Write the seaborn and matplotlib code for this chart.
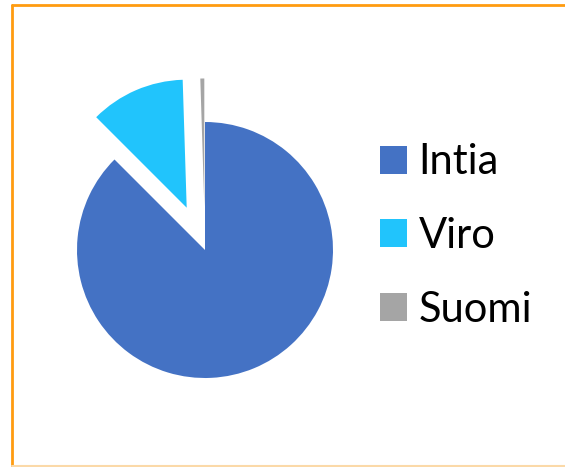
import matplotlib
matplotlib.use("Agg")
import matplotlib.pyplot as plt
import seaborn as sns
from matplotlib.patches import Patch
from matplotlib.lines import Line2D

categories = ["Intia", "Viro", "Suomi"]
values = [87.5, 12.0, 0.5]
colors = ["#4472C4", "#21C4FC", "#A5A5A5"]
explode = [0.0, 0.36, 0.34]

sns.set_theme(style="white")
plt.rcParams['font.family'] = ['Lato', 'DejaVu Sans']

fig = plt.figure(figsize=(5.65, 4.67), dpi=100)
fig.patch.set_facecolor("white")

ax = fig.add_axes([13/565, 25/467, 384/565, 384/467])
wedges, _ = ax.pie(values, colors=colors, explode=explode, startangle=90,
                   counterclock=False, wedgeprops=dict(linewidth=0))
ax.set_xlim(-1.5, 1.5)
ax.set_ylim(-1.5, 1.5)
ax.set_aspect("equal")
ax.axis("off")

handles = [Patch(facecolor=c, edgecolor="none") for c in colors]
leg = fig.legend(handles, categories, loc="center left",
                 bbox_to_anchor=(363/565, 1 - 236/467), frameon=False,
                 fontsize=30, handlelength=0.66, handleheight=0.66,
                 handletextpad=0.27, labelspacing=0.86, borderaxespad=0,
                 labelcolor="black")

orange = "#FF9C10"
fig.add_artist(Line2D([12/565, 12/565], [1 - 4.5/467, 1 - 466/467],
                      transform=fig.transFigure, color=orange, lw=2))
fig.add_artist(Line2D([12/565, 1.0], [1 - 5/467, 1 - 5/467],
                      transform=fig.transFigure, color=orange, lw=2))
fig.add_artist(Line2D([12/565, 1.0], [1 - 466/467, 1 - 466/467],
                      transform=fig.transFigure, color="#FBD9A8", lw=1.5))

fig.savefig("out.png", dpi=100, facecolor="white")
